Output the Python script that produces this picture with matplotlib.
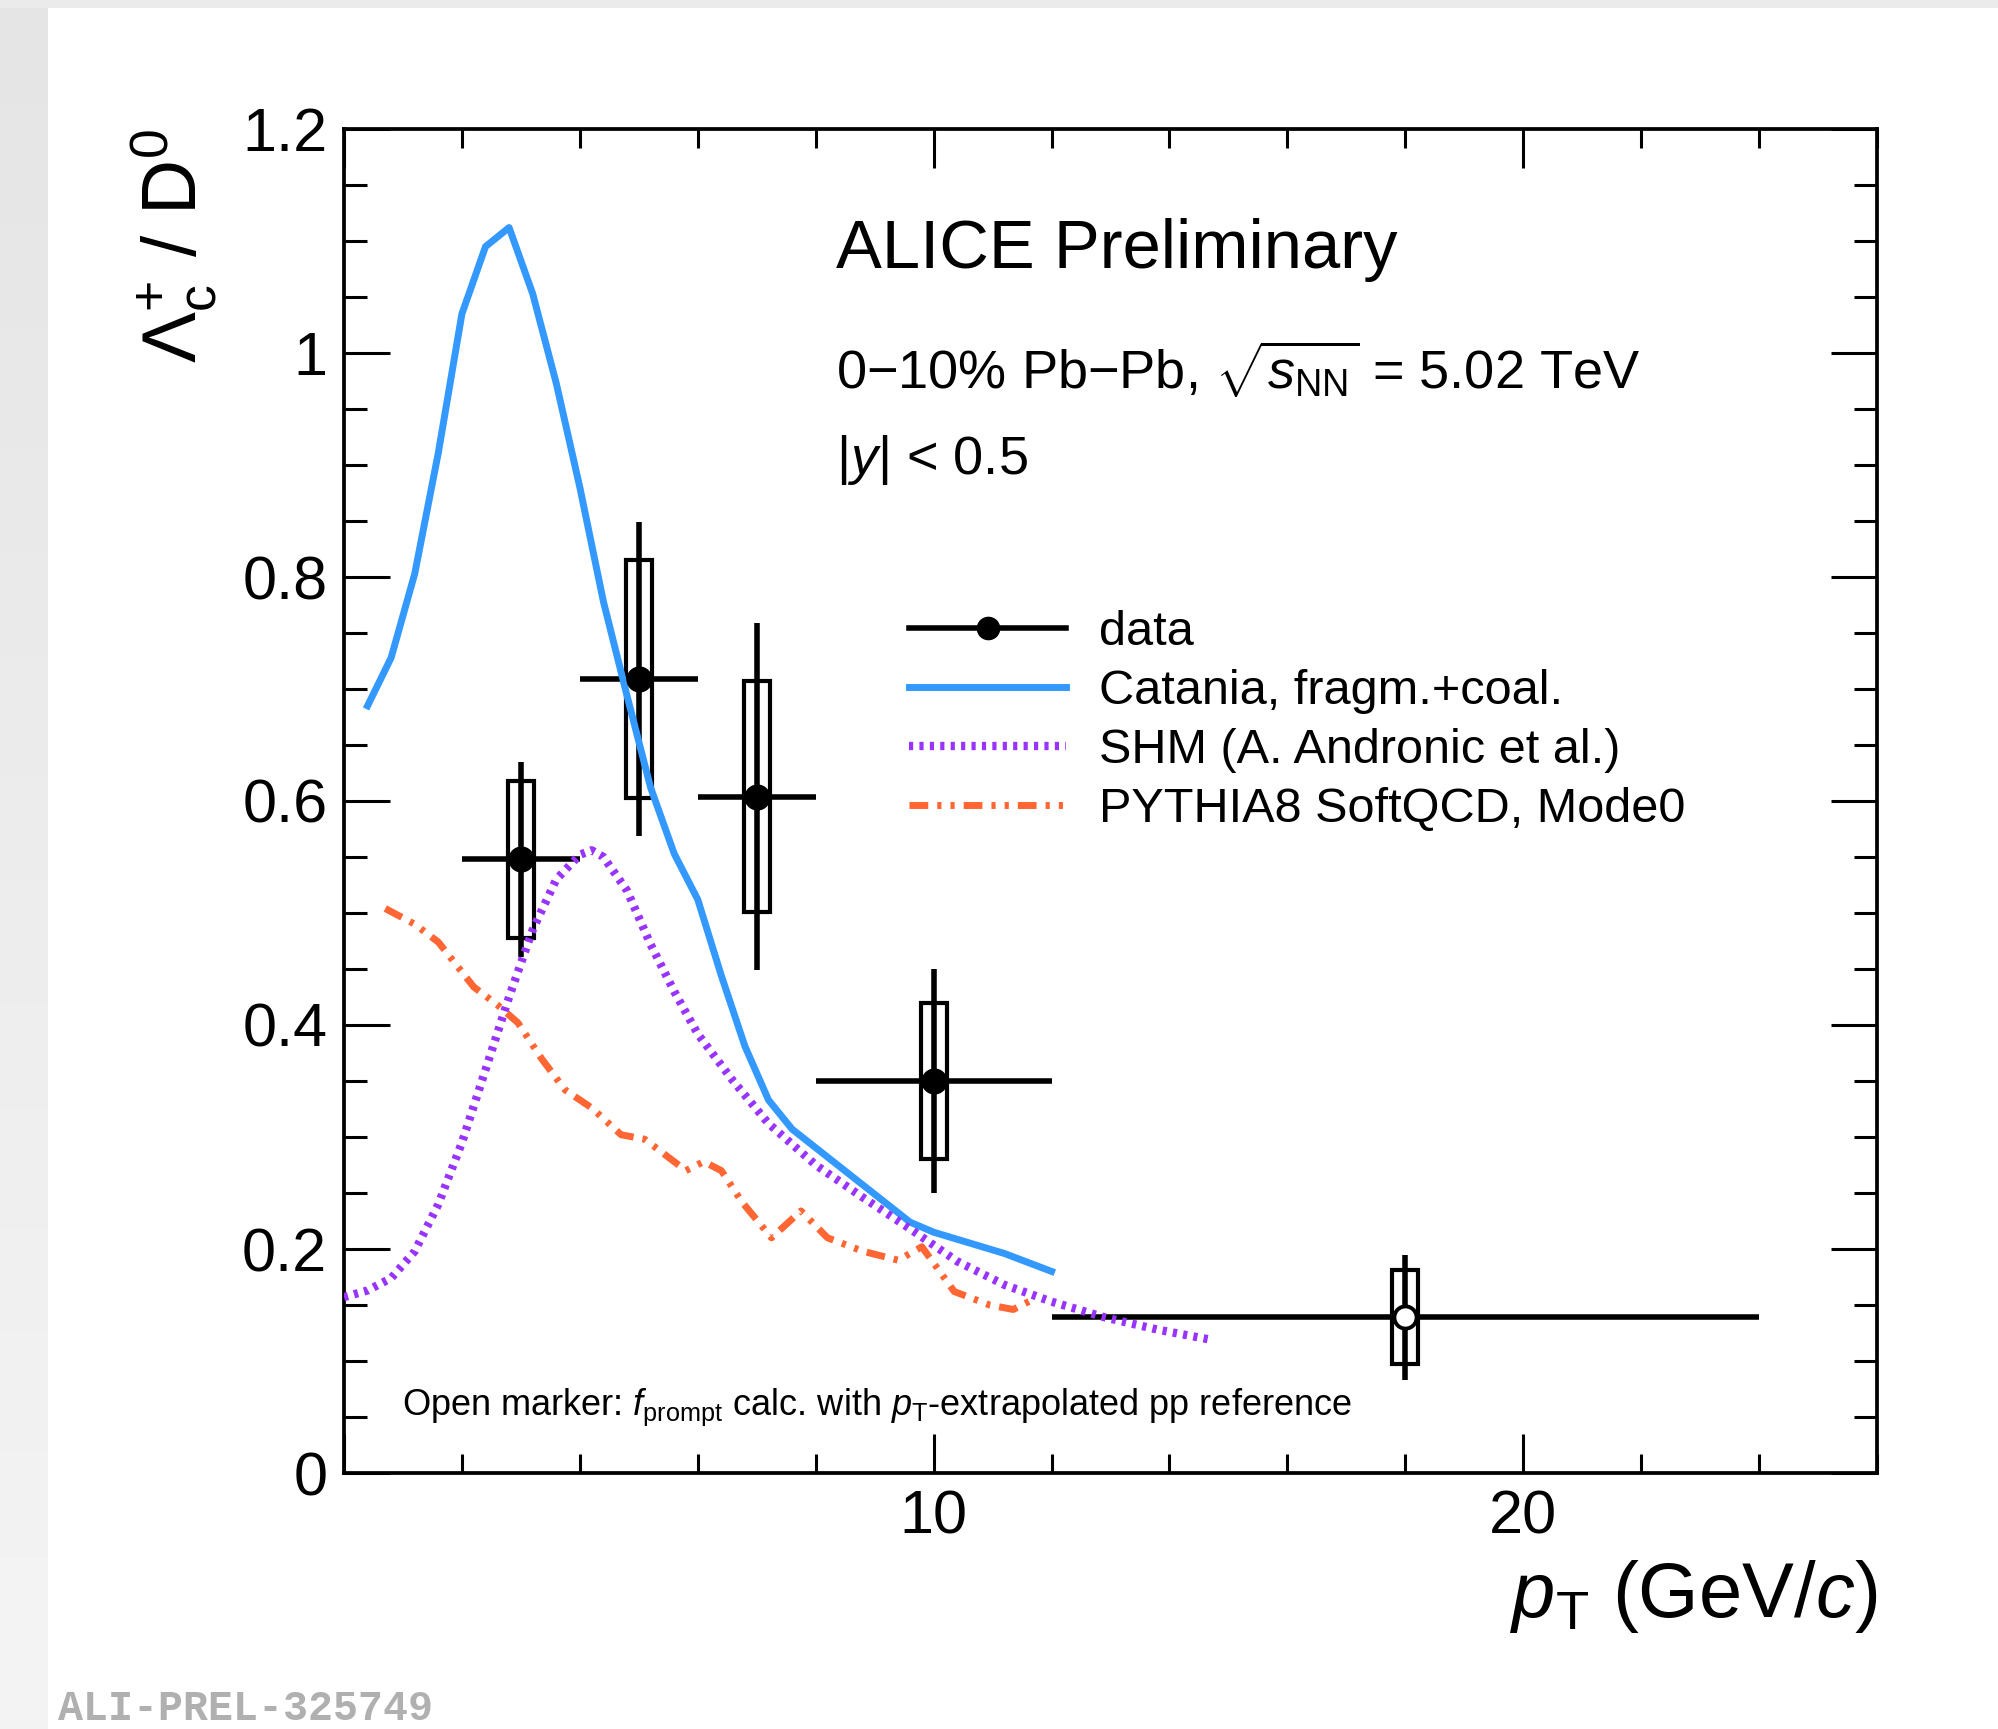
import numpy as np
import matplotlib
matplotlib.use('Agg')
import matplotlib.pyplot as plt
from matplotlib.lines import Line2D
from matplotlib.patches import Rectangle
from matplotlib.ticker import MultipleLocator, FuncFormatter

plt.rcParams['font.family'] = ['Liberation Sans', 'DejaVu Sans']
plt.rcParams['mathtext.fontset'] = 'custom'
plt.rcParams['mathtext.rm'] = 'Liberation Sans'
plt.rcParams['mathtext.it'] = 'Liberation Sans:italic'
plt.rcParams['mathtext.bf'] = 'Liberation Sans:bold'

# data points (Lambda_c / D0, 0-10% Pb-Pb)
pt = np.array([3.0, 5.0, 7.0, 10.0, 18.0])
pt_lo = np.array([2.0, 4.0, 6.0, 8.0, 12.0])
pt_hi = np.array([4.0, 6.0, 8.0, 12.0, 24.0])
ratio = np.array([0.548, 0.709, 0.604, 0.350, 0.139])
stat = np.array([0.087, 0.140, 0.155, 0.100, 0.056])
syst = np.array([0.070, 0.106, 0.103, 0.070, 0.042])
open_marker = [False, False, False, False, True]

# Catania fragm.+coal.
cat_x = [0.4, 0.8, 1.2, 1.6, 2.0, 2.4, 2.8, 3.2, 3.6, 4.0, 4.4, 4.8, 5.2, 5.6,
         6.0, 6.4, 6.8, 7.2, 7.6, 9.6, 10.0, 11.2, 12.0]
cat_y = [0.685, 0.728, 0.803, 0.911, 1.035, 1.095, 1.112, 1.053, 0.973, 0.880,
         0.778, 0.694, 0.612, 0.553, 0.512, 0.444, 0.381, 0.333, 0.307, 0.224,
         0.215, 0.196, 0.180]

# SHM (A. Andronic et al.)
shm_x = [0.0, 0.4, 0.8, 1.2, 1.6, 2.0, 2.4, 2.8, 3.2, 3.6, 4.0, 4.2, 4.4, 4.8,
         5.2, 5.6, 6.0, 6.6, 7.2, 8.0, 8.8, 9.6, 10.4, 11.2, 12.0, 12.9, 13.8, 14.7]
shm_y = [0.157, 0.163, 0.174, 0.198, 0.240, 0.295, 0.360, 0.425, 0.485, 0.530,
         0.552, 0.556, 0.550, 0.520, 0.472, 0.430, 0.392, 0.350, 0.312, 0.275,
         0.246, 0.218, 0.189, 0.168, 0.153, 0.139, 0.128, 0.119]

# PYTHIA8 SoftQCD, Mode0
pyt_x = [0.7, 1.2, 1.6, 2.2, 2.6, 2.95, 3.35, 3.75, 4.2, 4.7, 5.1, 5.5, 5.8, 6.1,
         6.4, 6.75, 7.25, 7.75, 8.2, 8.8, 9.4, 9.8, 10.35, 10.95, 11.35, 11.65]
pyt_y = [0.504, 0.490, 0.474, 0.434, 0.418, 0.402, 0.370, 0.342, 0.326, 0.302,
         0.298, 0.282, 0.270, 0.278, 0.270, 0.242, 0.210, 0.234, 0.210, 0.198,
         0.190, 0.202, 0.162, 0.150, 0.146, 0.154]

c_cat = '#3399ff'
c_shm = '#9933ff'
c_pyt = '#ff6633'
lw_cat, lw_shm, lw_pyt = 5.0, 6.0, 5.0
ls_shm = (0, (0.5, 0.75))
ls_pyt = (0, (2.7, 1.3, 0.6, 1.3, 0.6, 1.3))

fig = plt.figure(figsize=(19.99, 17.29), dpi=100)
fig.patch.set_facecolor('white')

# grey page border like the screenshot
bg = fig.add_axes([0, 0, 48 / 1999, 1])
bg.imshow(np.linspace(0.895, 0.955, 100).reshape(-1, 1), cmap='gray', vmin=0, vmax=1,
          aspect='auto', extent=[0, 1, 0, 1], origin='upper')
bg.axis('off')
fig.add_artist(Rectangle((0, 1 - 8 / 1729), 1, 8 / 1729, transform=fig.transFigure,
                         color='#ebebeb', lw=0))

ax = fig.add_axes([344 / 1999, 1 - 1473 / 1729, 1533 / 1999, 1344 / 1729])

# systematic boxes
ax.bar(pt, 2 * syst, bottom=ratio - syst, width=0.44, fill=False,
       edgecolor='black', linewidth=3.0, zorder=3)

# statistical errors + bin widths
xerr = [pt - pt_lo, pt_hi - pt]
ax.errorbar(pt, ratio, xerr=xerr, yerr=stat, fmt='none', ecolor='black',
            elinewidth=4.0, capsize=0, zorder=4)
for i in range(len(pt)):
    fc = 'white' if open_marker[i] else 'black'
    ax.plot(pt[i], ratio[i], 'o', ms=16, mfc=fc, mec='black', mew=2.8, zorder=6)

# models
ax.plot(cat_x, cat_y, color=c_cat, lw=lw_cat, zorder=5)
ax.plot(shm_x, shm_y, color=c_shm, lw=lw_shm, linestyle=ls_shm,
        dash_capstyle='butt', zorder=5)
ax.plot(pyt_x, pyt_y, color=c_pyt, lw=lw_pyt, linestyle=ls_pyt,
        dash_capstyle='butt', zorder=5)

ax.set_xlim(0, 26)
ax.set_ylim(0, 1.2)

ax.xaxis.set_major_locator(MultipleLocator(10))
ax.xaxis.set_minor_locator(MultipleLocator(2))
ax.yaxis.set_major_locator(MultipleLocator(0.2))
ax.yaxis.set_minor_locator(MultipleLocator(0.05))
ax.yaxis.set_major_formatter(FuncFormatter(lambda v, p: '%g' % round(v, 2)))
ax.xaxis.set_major_formatter(FuncFormatter(lambda v, p: '' if v == 0 else '%g' % v))

ax.tick_params(axis='both', which='both', direction='in', top=True, right=True,
               width=2.2, labelsize=44)
ax.tick_params(axis='x', which='major', length=28, pad=12)
ax.tick_params(axis='x', which='minor', length=14)
ax.tick_params(axis='y', which='major', length=33, pad=12)
ax.tick_params(axis='y', which='minor', length=16.5)
for s in ax.spines.values():
    s.set_linewidth(2.7)

ax.set_xlabel(r'$p_{\rm T}$ (GeV/$c$)', fontsize=56, loc='right', labelpad=8)
ax.set_ylabel(r'$\Lambda_{\rm c}^{+}$ / D$^{0}$', fontsize=55, loc='top', labelpad=16)

ax.text(0.3207, 0.8966, 'ALICE Preliminary', transform=ax.transAxes,
        fontsize=49.5, va='baseline', ha='left')
ax.text(0.3207, 0.8058, r'0$-$10% Pb$-$Pb, $\sqrt{s_{\rm NN}}$ = 5.02 TeV',
        transform=ax.transAxes, fontsize=39, va='baseline', ha='left')
ax.text(0.3207, 0.7433, r'|$y$| < 0.5', transform=ax.transAxes,
        fontsize=39, va='baseline', ha='left')
ax.text(0.0378, 0.0432,
        r'Open marker: $f_{\rm prompt}$ calc. with $p_{\rm T}$-extrapolated pp reference',
        transform=ax.transAxes, fontsize=26, va='baseline', ha='left')

handles = [
    Line2D([], [], color='black', lw=4.0, marker='o', ms=16),
    Line2D([], [], color=c_cat, lw=lw_cat),
    Line2D([], [], color=c_shm, lw=lw_shm, linestyle=ls_shm, dash_capstyle='butt'),
    Line2D([], [], color=c_pyt, lw=lw_pyt, linestyle=ls_pyt, dash_capstyle='butt'),
]
labels = ['data', 'Catania, fragm.+coal.', 'SHM (A. Andronic et al.)',
          'PYTHIA8 SoftQCD, Mode0']
ax.legend(handles, labels, loc='upper left', bbox_to_anchor=(0.3686, 0.642),
          frameon=False, fontsize=35, handlelength=3.23, handletextpad=0.68,
          labelspacing=0.29, borderpad=0, borderaxespad=0, numpoints=1)

fig.text(58 / 1999, 1 - 1720 / 1729, 'ALI-PREL-325749', fontsize=30,
         family='Liberation Mono', weight='bold', color='#b0b0b0',
         va='baseline', ha='left')

fig.savefig('out.png', dpi=100)
